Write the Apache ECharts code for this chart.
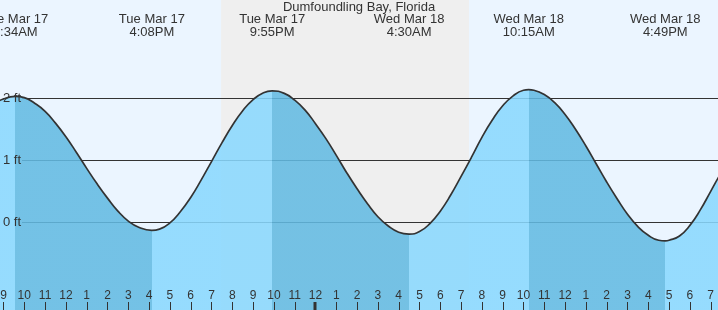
<!DOCTYPE html>
<html><head><meta charset="utf-8">
<script src="https://cdn.jsdelivr.net/npm/echarts@6/dist/echarts.min.js"></script>
<style>html,body{margin:0;padding:0;background:#ebf5ff}#c{width:718px;height:310px}</style>
</head><body><div id="c"></div>
<script>
// ---- data (hours counted from Tue Mar 17 00:00) ----
const curveHours = [8, 8.5, 9, 9.567, 10, 10.5, 11, 11.5, 12, 12.5, 13, 13.5, 14, 14.5, 15, 15.5, 16.133, 16.5, 17, 17.5, 18, 18.5, 19, 19.5, 20, 20.5, 21, 21.5, 21.917, 22.5, 23, 23.5, 24, 24.5, 25, 25.5, 26, 26.5, 27, 27.5, 28, 28.5, 29, 29.5, 30, 30.5, 31, 31.5, 32, 32.5, 33, 33.5, 34, 34.25, 34.5, 35, 35.5, 36, 36.5, 37, 37.5, 38, 38.5, 39, 39.5, 40, 40.5, 40.817, 41, 41.5, 42, 42.5, 43, 43.5, 44];
const curveFeet  = [1.73, 1.90, 1.99, 2.03, 2.01, 1.92, 1.79, 1.60, 1.38, 1.13, 0.87, 0.62, 0.39, 0.18, 0.02, -0.08, -0.13, -0.11, -0.01, 0.17, 0.40, 0.68, 0.98, 1.28, 1.56, 1.80, 1.98, 2.09, 2.12, 2.08, 1.97, 1.81, 1.59, 1.35, 1.08, 0.80, 0.54, 0.30, 0.09, -0.06, -0.16, -0.19, -0.15, -0.02, 0.18, 0.44, 0.74, 1.05, 1.37, 1.65, 1.88, 2.04, 2.13, 2.14, 2.13, 2.06, 1.93, 1.74, 1.50, 1.23, 0.94, 0.65, 0.38, 0.13, -0.07, -0.21, -0.29, -0.30, -0.29, -0.22, -0.05, 0.20, 0.50, 0.80, 1.08];
const eventDays  = ['Tue Mar 17', 'Tue Mar 17', 'Tue Mar 17', 'Wed Mar 18', 'Wed Mar 18', 'Wed Mar 18'];
const eventTimes = ['9:34AM', '4:08PM', '9:55PM', '4:30AM', '10:15AM', '4:49PM'];
const eventHours = [9.567, 16.133, 21.917, 28.5, 34.25, 40.817];
const eventKinds = ['high', 'low', 'high', 'low', 'high', 'low'];
const nightBands = [[19.46, 31.38]];
const xTickHours  = [9,10,11,12,13,14,15,16,17,18,19,20,21,22,23,24,25,26,27,28,29,30,31,32,33,34,35,36,37,38,39,40,41,42,43];
const xTickLabels = ['9','10','11','12','1','2','3','4','5','6','7','8','9','10','11','12','1','2','3','4','5','6','7','8','9','10','11','12','1','2','3','4','5','6','7'];
const yTicks      = [0, 1, 2];
const yTickLabels = ['0 ft', '1 ft', '2 ft'];
const title = 'Dumfoundling Bay, Florida';

// ---- layout / style ----
const X_MIN = 8.832, X_MAX = 43.351, Y_MIN = -1.4145, Y_MAX = 3.5855;
const LIGHT = 'rgb(137,216,254)', DARK = 'rgb(98,186,226)';
const FONT = '"Liberation Sans", Arial, sans-serif';
const TXT = '#333';

const pieces = [];
eventHours.forEach((h, i) => {
  const color = eventKinds[i] === 'high' ? LIGHT : DARK;
  if (i === 0) pieces.push({lt: h, color});
  else pieces.push({gte: eventHours[i - 1], lt: h, color});
});
pieces.push({gte: eventHours[eventHours.length - 1], color: eventKinds[eventKinds.length - 1] === 'high' ? DARK : LIGHT});

const curve = curveHours.map((h, i) => [h, curveFeet[i]]);

const chart = echarts.init(document.getElementById('c'));
chart.setOption({
  animation: false,
  backgroundColor: '#ebf5ff',
  title: {text: title, left: 'center', top: 1, padding: 0,
    textStyle: {fontSize: 13, fontWeight: 'normal', color: TXT, fontFamily: FONT}},
  grid: {left: 0, right: 0, top: 0, bottom: 0},
  xAxis: {type: 'value', min: X_MIN, max: X_MAX, show: false},
  yAxis: {type: 'value', min: Y_MIN, max: Y_MAX, show: false},
  visualMap: {type: 'piecewise', show: false, dimension: 0, seriesIndex: 2, pieces: pieces},
  series: [
    { // night band
      type: 'custom', z: 0, silent: true, data: nightBands,
      renderItem: (params, api) => {
        const a = api.coord([api.value(0), Y_MAX]);
        const b = api.coord([api.value(1), Y_MIN]);
        return {type: 'rect', shape: {x: a[0], y: a[1], width: b[0] - a[0], height: b[1] - a[1]}, style: {fill: '#efefef'}};
      }
    },
    { // horizontal grid lines
      type: 'custom', z: 1, silent: true, data: yTicks.map(v => [X_MIN, v]),
      renderItem: (params, api) => {
        const cs = params.coordSys;
        const y = Math.round(api.coord([X_MIN, api.value(1)])[1]) + 0.5;
        return {type: 'line', shape: {x1: cs.x + 22, y1: y, x2: cs.x + cs.width, y2: y}, style: {stroke: '#333', lineWidth: 1}};
      }
    },
    { // tide area
      type: 'line', z: 2, silent: true, data: curve, smooth: 0.5, showSymbol: false,
      lineStyle: {width: 0, opacity: 0}, areaStyle: {opacity: 0.87, origin: 'start'}
    },
    { // tide curve
      type: 'line', z: 3, silent: true, data: curve, smooth: 0.5, showSymbol: false,
      lineStyle: {color: '#333', width: 1.7}, itemStyle: {color: '#333'}
    },
    { // event labels
      type: 'custom', z: 5, silent: true, data: eventHours.map((h, i) => [h, i]),
      renderItem: (params, api) => {
        const i = api.value(1);
        const x = api.coord([api.value(0), 0])[0];
        return {type: 'text', style: {text: eventDays[i] + '\n' + eventTimes[i], x: x, y: 13, align: 'center', verticalAlign: 'top',
          lineHeight: 13, font: '13px ' + FONT, fill: TXT}};
      }
    },
    { // hour ticks + labels
      type: 'custom', z: 5, silent: true, data: xTickHours.map((h, i) => [h, i]),
      renderItem: (params, api) => {
        const h = api.value(0), i = api.value(1);
        const p = api.coord([h, Y_MIN]);
        const mid = h % 24 === 0;
        const x = mid ? Math.round(p[0]) : Math.round(p[0]) + 0.5;
        return {type: 'group', children: [
          {type: 'line', shape: {x1: x, y1: p[1] - 8, x2: x, y2: p[1]}, style: {stroke: '#333', lineWidth: mid ? 3 : 1}},
          {type: 'text', style: {text: xTickLabels[i], x: p[0], y: p[1] - 14, align: 'center', verticalAlign: 'middle',
            font: '12px ' + FONT, fill: TXT}}
        ]};
      }
    },
    { // y labels
      type: 'custom', z: 5, silent: true, data: yTicks.map((v, i) => [X_MIN, v, i]),
      renderItem: (params, api) => {
        const cs = params.coordSys;
        const y = api.coord([X_MIN, api.value(1)])[1];
        return {type: 'text', style: {text: yTickLabels[api.value(2)], x: cs.x + 3, y: y, align: 'left', verticalAlign: 'middle',
          font: '13px ' + FONT, fill: TXT}};
      }
    }
  ]
});
</script>
</body></html>
